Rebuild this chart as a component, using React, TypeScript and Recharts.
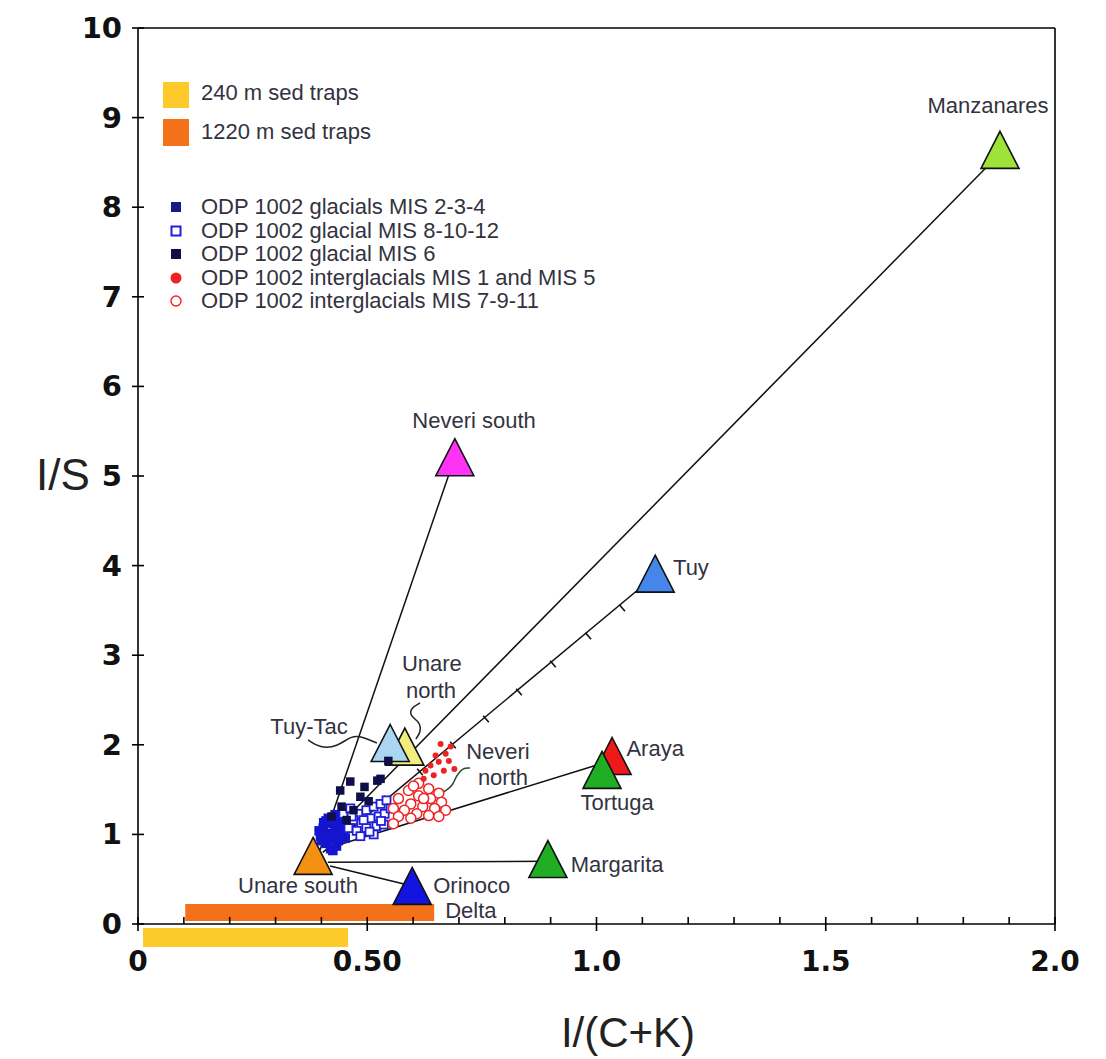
import React from 'react';
import { ScatterChart, Scatter, XAxis, YAxis, ReferenceArea, ReferenceLine } from 'recharts';

// ---------- data ----------
const xTicks = [0, 0.1, 0.2, 0.3, 0.4, 0.5, 0.6, 0.7, 0.8, 0.9, 1.0, 1.1, 1.2, 1.3, 1.4, 1.5, 1.6, 1.7, 1.8, 1.9, 2.0];
const xTickLabels: Record<string, string> = { '0.0': '0', '0.5': '0.50', '1.0': '1.0', '1.5': '1.5', '2.0': '2.0' };
const yTicks = [0, 1, 2, 3, 4, 5, 6, 7, 8, 9, 10];

// end-member sources (triangles), drawn in this order
const sources = [
  { name: 'Manzanares', x: 1.88, y: 8.64 },
  { name: 'Neveri south', x: 0.691, y: 5.21 },
  { name: 'Tuy', x: 1.128, y: 3.91 },
  { name: 'Unare north', x: 0.582, y: 1.98 },
  { name: 'Tuy-Tac', x: 0.55, y: 2.02 },
  { name: 'Araya', x: 1.034, y: 1.875 },
  { name: 'Tortuga', x: 1.012, y: 1.72 },
  { name: 'Margarita', x: 0.894, y: 0.725 },
  { name: 'Orinoco Delta', x: 0.598, y: 0.425 },
  { name: 'Unare south', x: 0.382, y: 0.76 },
];

// mixing lines from Unare south to each source
const mixManzanares = [{ x: 0.403, y: 0.915 }, { x: 1.88, y: 8.6 }];
const mixNeveriSouth = [{ x: 0.397, y: 0.826 }, { x: 0.691, y: 5.21 }];
const mixTuy = [{ x: 0.403, y: 0.8 }, { x: 1.128, y: 3.89 }];
const mixTortuga = [{ x: 0.43, y: 0.87 }, { x: 1.008, y: 1.786 }];
const mixMargarita = [{ x: 0.414, y: 0.69 }, { x: 0.894, y: 0.7 }];
const mixOrinoco = [{ x: 0.419, y: 0.647 }, { x: 0.598, y: 0.425 }];

// 10 % marks along the Unare south - Tuy mixing line
const tuyMarks = [
  { x: 0.473, y: 1.094 }, { x: 0.543, y: 1.395 }, { x: 0.615, y: 1.696 },
  { x: 0.687, y: 1.998 }, { x: 0.759, y: 2.288 }, { x: 0.831, y: 2.589 },
  { x: 0.905, y: 2.902 }, { x: 0.982, y: 3.214 }, { x: 1.056, y: 3.527 },
];

// leader curves for crowded labels
const leaderTuyTac = [
  { x: 0.371, y: 2.054 }, { x: 0.397, y: 1.964 }, { x: 0.434, y: 1.975 },
  { x: 0.467, y: 2.109 }, { x: 0.491, y: 2.087 }, { x: 0.521, y: 2.02 },
];
const leaderUnareNorth = [
  { x: 0.615, y: 2.467 }, { x: 0.595, y: 2.411 }, { x: 0.593, y: 2.321 },
  { x: 0.615, y: 2.254 }, { x: 0.617, y: 2.143 }, { x: 0.606, y: 2.065 },
];
const leaderNeveriNorth = [
  { x: 0.724, y: 1.741 }, { x: 0.707, y: 1.741 }, { x: 0.694, y: 1.652 },
  { x: 0.687, y: 1.551 }, { x: 0.672, y: 1.484 }, { x: 0.652, y: 1.44 },
];

// labels
const labels = [
  { text: 'Manzanares', x: 1.854, y: 9.14 },
  { text: 'Neveri south', x: 0.733, y: 5.625 },
  { text: 'Tuy', x: 1.206, y: 3.98 },
  { text: 'Unare', x: 0.641, y: 2.91 },
  { text: 'north', x: 0.639, y: 2.61 },
  { text: 'Tuy-Tac', x: 0.373, y: 2.2 },
  { text: 'Neveri', x: 0.785, y: 1.92 },
  { text: 'north', x: 0.796, y: 1.63 },
  { text: 'Araya', x: 1.128, y: 1.964 },
  { text: 'Tortuga', x: 1.045, y: 1.36 },
  { text: 'Margarita', x: 1.045, y: 0.66 },
  { text: 'Unare south', x: 0.349, y: 0.435 },
  { text: 'Orinoco', x: 0.728, y: 0.435 },
  { text: 'Delta', x: 0.726, y: 0.156 },
];

// ODP 1002 samples
const glacialMIS234 = [
  { x: 0.415, y: 1.18 }, { x: 0.426, y: 1.12 }, { x: 0.404, y: 1.07 }, { x: 0.437, y: 1.07 },
  { x: 0.415, y: 1.01 }, { x: 0.426, y: 0.96 }, { x: 0.411, y: 0.9 }, { x: 0.433, y: 0.87 },
  { x: 0.448, y: 1.01 }, { x: 0.398, y: 0.98 }, { x: 0.441, y: 1.16 }, { x: 0.459, y: 1.11 },
  { x: 0.42, y: 0.84 }, { x: 0.437, y: 0.93 }, { x: 0.405, y: 1.13 }, { x: 0.43, y: 1.22 },
  { x: 0.4, y: 0.93 }, { x: 0.418, y: 0.95 }, { x: 0.43, y: 1.03 }, { x: 0.445, y: 1.08 },
  { x: 0.41, y: 1.15 }, { x: 0.395, y: 1.04 }, { x: 0.425, y: 0.82 }, { x: 0.452, y: 0.96 },
];
const glacialMIS81012 = [
  { x: 0.448, y: 1.23 }, { x: 0.463, y: 1.29 }, { x: 0.481, y: 1.23 }, { x: 0.498, y: 1.27 },
  { x: 0.514, y: 1.31 }, { x: 0.529, y: 1.34 }, { x: 0.542, y: 1.38 }, { x: 0.47, y: 1.16 },
  { x: 0.487, y: 1.12 }, { x: 0.507, y: 1.18 }, { x: 0.525, y: 1.2 }, { x: 0.538, y: 1.23 },
  { x: 0.459, y: 1.07 }, { x: 0.477, y: 1.04 }, { x: 0.498, y: 1.07 }, { x: 0.52, y: 1.09 },
  { x: 0.536, y: 1.11 }, { x: 0.485, y: 0.98 }, { x: 0.514, y: 1.0 }, { x: 0.551, y: 1.29 },
  { x: 0.466, y: 1.2 }, { x: 0.492, y: 1.16 }, { x: 0.53, y: 1.15 }, { x: 0.505, y: 1.03 },
];
const glacialMIS6 = [
  { x: 0.463, y: 1.59 }, { x: 0.494, y: 1.53 }, { x: 0.522, y: 1.6 }, { x: 0.441, y: 1.49 },
  { x: 0.485, y: 1.42 }, { x: 0.444, y: 1.31 }, { x: 0.503, y: 1.37 }, { x: 0.422, y: 1.2 },
  { x: 0.546, y: 1.82 }, { x: 0.529, y: 1.62 }, { x: 0.47, y: 1.27 }, { x: 0.455, y: 1.16 },
];
const interglacialMIS15 = [
  { x: 0.66, y: 2.01 }, { x: 0.682, y: 1.98 }, { x: 0.671, y: 1.9 }, { x: 0.649, y: 1.88 },
  { x: 0.678, y: 1.82 }, { x: 0.656, y: 1.81 }, { x: 0.638, y: 1.77 }, { x: 0.667, y: 1.71 },
  { x: 0.627, y: 1.71 }, { x: 0.645, y: 1.66 }, { x: 0.623, y: 1.62 }, { x: 0.69, y: 1.73 },
];
const interglacialMIS7911 = [
  { x: 0.612, y: 1.57 }, { x: 0.634, y: 1.51 }, { x: 0.656, y: 1.46 }, { x: 0.59, y: 1.49 },
  { x: 0.612, y: 1.43 }, { x: 0.638, y: 1.4 }, { x: 0.662, y: 1.36 }, { x: 0.568, y: 1.4 },
  { x: 0.595, y: 1.34 }, { x: 0.621, y: 1.31 }, { x: 0.647, y: 1.29 }, { x: 0.671, y: 1.27 },
  { x: 0.557, y: 1.29 }, { x: 0.581, y: 1.27 }, { x: 0.608, y: 1.23 }, { x: 0.634, y: 1.21 },
  { x: 0.656, y: 1.2 }, { x: 0.568, y: 1.2 }, { x: 0.595, y: 1.18 }, { x: 0.557, y: 1.12 },
  { x: 0.623, y: 1.4 }, { x: 0.601, y: 1.54 },
];

// sediment trap ranges
const trap240 = { x1: 0.011, x2: 0.458, y1: -0.257, y2: -0.045 };
const trap1220 = { x1: 0.103, x2: 0.646, y1: 0.033, y2: 0.223 };

// ---------- styles ----------
const sourceColors: Record<string, string> = {
  'Manzanares': '#9fe23a',
  'Neveri south': '#ff33f5',
  'Tuy': '#4486ea',
  'Unare north': '#f2ee7e',
  'Tuy-Tac': '#aad6f2',
  'Araya': '#ee1a1a',
  'Tortuga': '#1fae24',
  'Margarita': '#1fae24',
  'Orinoco Delta': '#1414e0',
  'Unare south': '#f39112',
};
const C_234 = '#1515d0';
const C_81012 = '#1f1fd8';
const C_6 = '#0e0e48';
const C_RED = '#ee2222';
const C_Y = '#fdca2c';
const C_O = '#f37219';
const LABEL_COLOR = '#33333f';
const SANS = '"Liberation Sans", Arial, sans-serif';
const TICK_FONT = '"DejaVu Sans", sans-serif';

const W = 1106;
const H = 1059;
const PLOT_TOP = 28;
const PLOT_BOTTOM = 924;
const PLOT_LEFT = 138;
const PLOT_RIGHT = 1055;

const Blank = () => <g />;

const Triangle = (color: string) => (p: any) => (
  <path
    d={`M${p.cx},${p.cy - 18.5} L${p.cx + 19},${p.cy + 18.5} L${p.cx - 19},${p.cy + 18.5} Z`}
    fill={color}
    stroke="#111"
    strokeWidth={1.6}
    strokeLinejoin="miter"
  />
);

const SquareFilled = (color: string, s: number) => (p: any) => (
  <rect x={p.cx - s / 2} y={p.cy - s / 2} width={s} height={s} fill={color} />
);
const SquareOpen = (p: any) => (
  <rect x={p.cx - 4} y={p.cy - 4} width={8} height={8} fill="#fff" stroke={C_81012} strokeWidth={1.8} />
);
const CircleOpen = (p: any) => (
  <circle cx={p.cx} cy={p.cy} r={5} fill="#fff" stroke={C_RED} strokeWidth={1.5} />
);
const DotRed = (p: any) => <circle cx={p.cx} cy={p.cy} r={3} fill={C_RED} />;

const MarkShape = (p: any) => (
  <line x1={p.cx - 2.8} y1={p.cy - 3.3} x2={p.cx + 2.8} y2={p.cy + 3.3} stroke="#111" strokeWidth={1.6} />
);

const LabelShape = (p: any) => (
  <text
    x={p.cx}
    y={p.cy}
    textAnchor="middle"
    dominantBaseline="central"
    fontFamily={SANS}
    fontSize={22}
    fill={LABEL_COLOR}
  >
    {p.payload.text}
  </text>
);

const YTick = (p: any) => {
  const { x, y, payload } = p;
  return (
    <g>
      <line x1={x - 6} x2={x + 6} y1={y} y2={y} stroke="#000" strokeWidth={1.6} />
      <text
        x={x - 16}
        y={y}
        textAnchor="end"
        dominantBaseline="central"
        fontFamily={TICK_FONT}
        fontWeight="bold"
        fontSize={29}
        fill="#111"
      >
        {payload.value}
      </text>
    </g>
  );
};

const XTick = (p: any) => {
  const { x, y, payload } = p;
  const label = xTickLabels[Number(payload.value).toFixed(1)];
  const major = label !== undefined;
  return (
    <g>
      <line x1={x} x2={x} y1={y - 7} y2={major ? y + 7 : y} stroke="#000" strokeWidth={1.6} />
      {major && (
        <text
          x={x}
          y={y + 37}
          textAnchor="middle"
          dominantBaseline="central"
          fontFamily={TICK_FONT}
          fontWeight="bold"
          fontSize={28}
          fill="#111"
        >
          {label}
        </text>
      )}
    </g>
  );
};

const legendRows = [
  { text: 'ODP 1002 glacials MIS 2-3-4', kind: 'sq234' },
  { text: 'ODP 1002 glacial MIS 8-10-12', kind: 'sqOpen' },
  { text: 'ODP 1002 glacial MIS 6', kind: 'sq6' },
  { text: 'ODP 1002 interglacials MIS 1 and MIS 5', kind: 'dot' },
  { text: 'ODP 1002 interglacials MIS 7-9-11', kind: 'circ' },
];

const LegendMarker = ({ kind }: { kind: string }) => (
  <svg width={16} height={16} style={{ position: 'absolute', left: 168, top: 0 }}>
    {kind === 'sq234' && <rect x={3} y={3} width={10} height={10} fill="#1a1a86" />}
    {kind === 'sqOpen' && <rect x={3.5} y={3.5} width={9} height={9} fill="#fff" stroke={C_81012} strokeWidth={2} />}
    {kind === 'sq6' && <rect x={3} y={3} width={10} height={10} fill={C_6} />}
    {kind === 'dot' && <circle cx={8} cy={8} r={5.5} fill={C_RED} />}
    {kind === 'circ' && <circle cx={8} cy={8} r={5} fill="#fff" stroke={C_RED} strokeWidth={1.4} />}
  </svg>
);

export default function App() {
  const rowTops = [199, 222.5, 246, 269.5, 293];
  return (
    <div style={{ position: 'absolute', left: 0, top: 0, width: W, height: H, background: '#fff', overflow: 'hidden' }}>
      <ScatterChart
        width={W}
        height={H}
        margin={{ top: PLOT_TOP, right: W - PLOT_RIGHT, left: 0, bottom: 0 }}
      >
        <XAxis
          type="number"
          dataKey="x"
          domain={[0, 2]}
          ticks={xTicks}
          interval={0}
          height={H - PLOT_BOTTOM}
          tickSize={0}
          tickMargin={0}
          tickLine={false}
          tick={<XTick />}
          axisLine={{ stroke: '#000', strokeWidth: 1.6 }}
          allowDataOverflow
        />
        <YAxis
          type="number"
          dataKey="y"
          domain={[0, 10]}
          ticks={yTicks}
          interval={0}
          width={PLOT_LEFT}
          tickSize={0}
          tickMargin={0}
          tickLine={false}
          tick={<YTick />}
          axisLine={{ stroke: '#000', strokeWidth: 1.6 }}
          allowDataOverflow
        />
        <ReferenceArea {...trap240} fill={C_Y} fillOpacity={1} stroke="none" ifOverflow="visible" />
        <ReferenceArea {...trap1220} fill={C_O} fillOpacity={1} stroke="none" ifOverflow="visible" />
        <ReferenceLine y={10} stroke="#000" strokeWidth={1.6} />
        <ReferenceLine x={2} stroke="#000" strokeWidth={1.6} />

        {[mixManzanares, mixNeveriSouth, mixTuy, mixTortuga, mixMargarita, mixOrinoco].map((d, i) => (
          <Scatter
            key={`mix${i}`}
            data={d}
            line={{ stroke: '#111', strokeWidth: 1.5 }}
            shape={Blank}
            isAnimationActive={false}
          />
        ))}
        <Scatter data={tuyMarks} shape={MarkShape} isAnimationActive={false} />
        {[leaderTuyTac, leaderUnareNorth, leaderNeveriNorth].map((d, i) => (
          <Scatter
            key={`lead${i}`}
            data={d}
            line={{ stroke: i === 2 ? '#2a4a2a' : '#222', strokeWidth: 1.5, fill: 'none' }}
            lineJointType="basis"
            shape={Blank}
            isAnimationActive={false}
          />
        ))}

        {sources.map((s) => (
          <Scatter
            key={s.name}
            data={[s]}
            shape={Triangle(sourceColors[s.name])}
            isAnimationActive={false}
          />
        ))}

        <Scatter data={glacialMIS234} shape={SquareFilled(C_234, 9.5)} isAnimationActive={false} />
        <Scatter data={glacialMIS81012} shape={SquareOpen} isAnimationActive={false} />
        <Scatter data={glacialMIS6} shape={SquareFilled(C_6, 8.5)} isAnimationActive={false} />
        <Scatter data={interglacialMIS7911} shape={CircleOpen} isAnimationActive={false} />
        <Scatter data={interglacialMIS15} shape={DotRed} isAnimationActive={false} />

        <Scatter data={labels} shape={LabelShape} isAnimationActive={false} />
      </ScatterChart>

      {/* legend */}
      <div style={{ position: 'absolute', left: 163, top: 82, width: 26, height: 26, background: C_Y }} />
      <div style={{ position: 'absolute', left: 201, top: 81, fontFamily: SANS, fontSize: 22, lineHeight: '24px', color: LABEL_COLOR, whiteSpace: 'nowrap' }}>
        240 m sed traps
      </div>
      <div style={{ position: 'absolute', left: 163, top: 119, width: 26, height: 27, background: C_O }} />
      <div style={{ position: 'absolute', left: 201, top: 120, fontFamily: SANS, fontSize: 22, lineHeight: '24px', color: LABEL_COLOR, whiteSpace: 'nowrap' }}>
        1220 m sed traps
      </div>
      {legendRows.map((r, i) => (
        <div key={r.text} style={{ position: 'absolute', left: 0, top: rowTops[i], width: 700, height: 16 }}>
          <LegendMarker kind={r.kind} />
          <div style={{ position: 'absolute', left: 201, top: -4, fontFamily: SANS, fontSize: 22, lineHeight: '24px', color: LABEL_COLOR, whiteSpace: 'nowrap' }}>
            {r.text}
          </div>
        </div>
      ))}

      {/* axis titles */}
      <div style={{ position: 'absolute', left: 36, top: 450, fontFamily: SANS, fontSize: 44, lineHeight: '50px', color: '#222', whiteSpace: 'nowrap' }}>
        I/S
      </div>
      <div style={{ position: 'absolute', left: 628, top: 1008, transform: 'translateX(-50%)', fontFamily: SANS, fontSize: 42, lineHeight: '50px', color: '#222', whiteSpace: 'nowrap' }}>
        I/(C+K)
      </div>
    </div>
  );
}
